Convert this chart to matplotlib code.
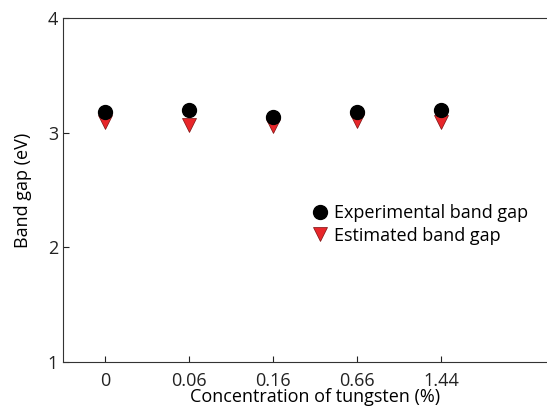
import matplotlib.pyplot as plt

plt.rcParams['font.family'] = ['Open Sans', 'DejaVu Sans']

concentrations = ["0", "0.06", "0.16", "0.66", "1.44"]
experimental = [3.18, 3.20, 3.14, 3.18, 3.20]
estimated = [3.09, 3.07, 3.06, 3.10, 3.09]

fig = plt.figure(figsize=(5.47, 4.11), dpi=100)
ax = fig.add_axes([0.115, 0.119, 0.922, 0.837])

x = range(len(concentrations))
ax.plot(x, experimental, 'o', color='black', markersize=10, label="Experimental band gap", zorder=3)
ax.plot(x, estimated, 'v', color='#e8262a', markeredgecolor='#7a1010', markeredgewidth=0.5,
        markersize=10.5, label="Estimated band gap", zorder=2)

ax.set_xlim(-0.5, 5.5)
ax.set_ylim(1, 4)
ax.set_xticks(list(x))
ax.set_xticklabels(concentrations)
ax.set_yticks([1, 2, 3, 4])
ax.tick_params(direction='in', labelsize=13, colors='#222222', length=4)
ax.tick_params(axis='x', pad=7)
ax.spines['right'].set_visible(False)
for s in ['left', 'bottom', 'top']:
    ax.spines[s].set_color('#333333')

ax.set_xlabel("Concentration of tungsten (%)", fontsize=13, labelpad=-1)
ax.set_ylabel("Band gap (eV)", fontsize=13, labelpad=11)

ax.legend(loc='center left', bbox_to_anchor=(0.47, 0.40), frameon=False, fontsize=13,
          handletextpad=0.2, labelspacing=0.25, borderpad=0, handlelength=1.2)

fig.savefig("out.png", dpi=100)
